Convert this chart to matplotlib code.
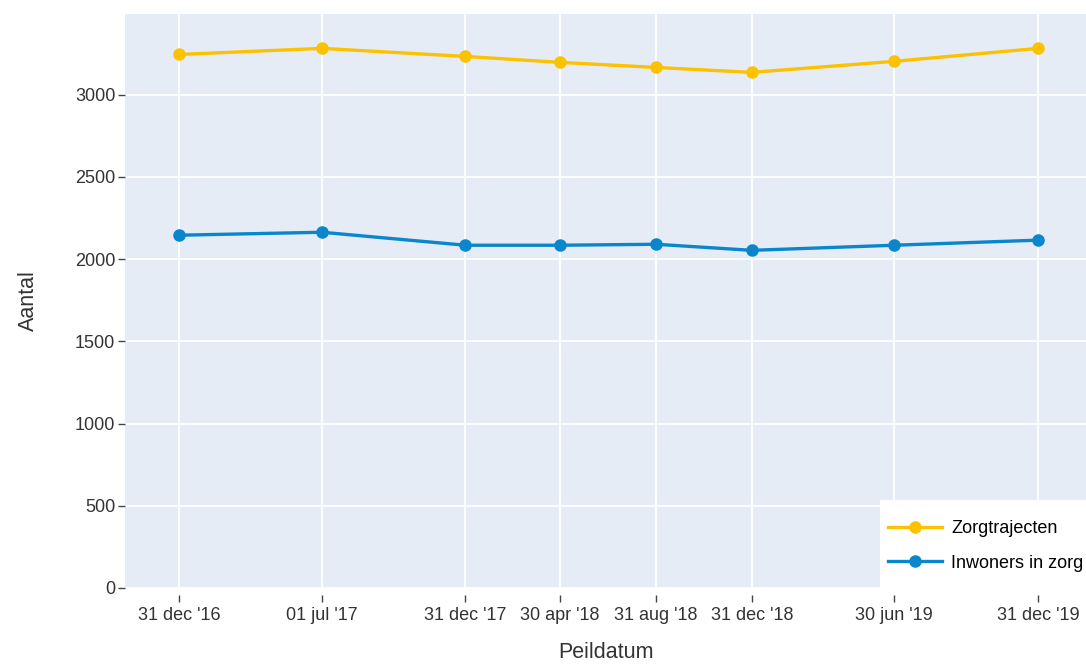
import numpy as np
import pandas as pd
import matplotlib.pyplot as plt
from matplotlib.patches import Rectangle

peildata = ['2016-12-31', '2017-07-01', '2017-12-31', '2018-04-30',
            '2018-08-31', '2018-12-31', '2019-06-30', '2019-12-31']
labels = ["31 dec '16", "01 jul '17", "31 dec '17", "30 apr '18",
          "31 aug '18", "31 dec '18", "30 jun '19", "31 dec '19"]
zorgtrajecten = [3244, 3281, 3232, 3196, 3165, 3135, 3202, 3281]
inwoners = [2145, 2163, 2084, 2084, 2090, 2053, 2084, 2115]

plt.rcParams['font.family'] = ['Liberation Sans', 'DejaVu Sans']

datums = pd.to_datetime(peildata)

fig = plt.figure(figsize=(10.86, 6.64), dpi=100)
ax = fig.add_axes([125/1086, 76/664, 961/1086, 574/664])
ax.set_facecolor('#E5ECF6')

ax.plot(datums, zorgtrajecten, color='#FCC200', linewidth=2.4, marker='o',
        markersize=8, label='Zorgtrajecten', zorder=3)
ax.plot(datums, inwoners, color='#0A86CC', linewidth=2.4, marker='o',
        markersize=8, label='Inwoners in zorg', zorder=3)

ax.set_xlim(pd.Timestamp('2016-10-23'), pd.Timestamp('2020-03-01'))
ax.set_ylim(0, 3490)
ax.set_xticks(datums)
ax.set_xticklabels(labels)
ax.set_yticks([0, 500, 1000, 1500, 2000, 2500, 3000])

ax.grid(True, color='white', linewidth=1.3)
ax.set_axisbelow(True)
for s in ax.spines.values():
    s.set_visible(False)
ax.spines['bottom'].set_position(('outward', 5))

ax.tick_params(axis='both', colors='#444444', labelcolor='#333333',
               labelsize=13, length=5, width=1)
ax.tick_params(axis='x', pad=4)
ax.tick_params(axis='y', pad=2)

ax.set_xlabel('Peildatum', fontsize=15.5, color='#333333', labelpad=13)
ax.set_ylabel('Aantal', fontsize=15.5, color='#333333', labelpad=26)

# witte achtergrond van de legenda
ax.add_patch(Rectangle((0.7856, 0), 0.2144, 0.1533, transform=ax.transAxes,
                       facecolor='white', edgecolor='none', zorder=4,
                       clip_on=False))
leg = ax.legend(loc='center left', bbox_to_anchor=(0.794, 0.0732),
                fontsize=13, frameon=False, borderaxespad=0, borderpad=0,
                handlelength=3.0, handletextpad=0.5, labelspacing=0.95)
leg.set_zorder(5)

fig.savefig('out.png', dpi=100)
